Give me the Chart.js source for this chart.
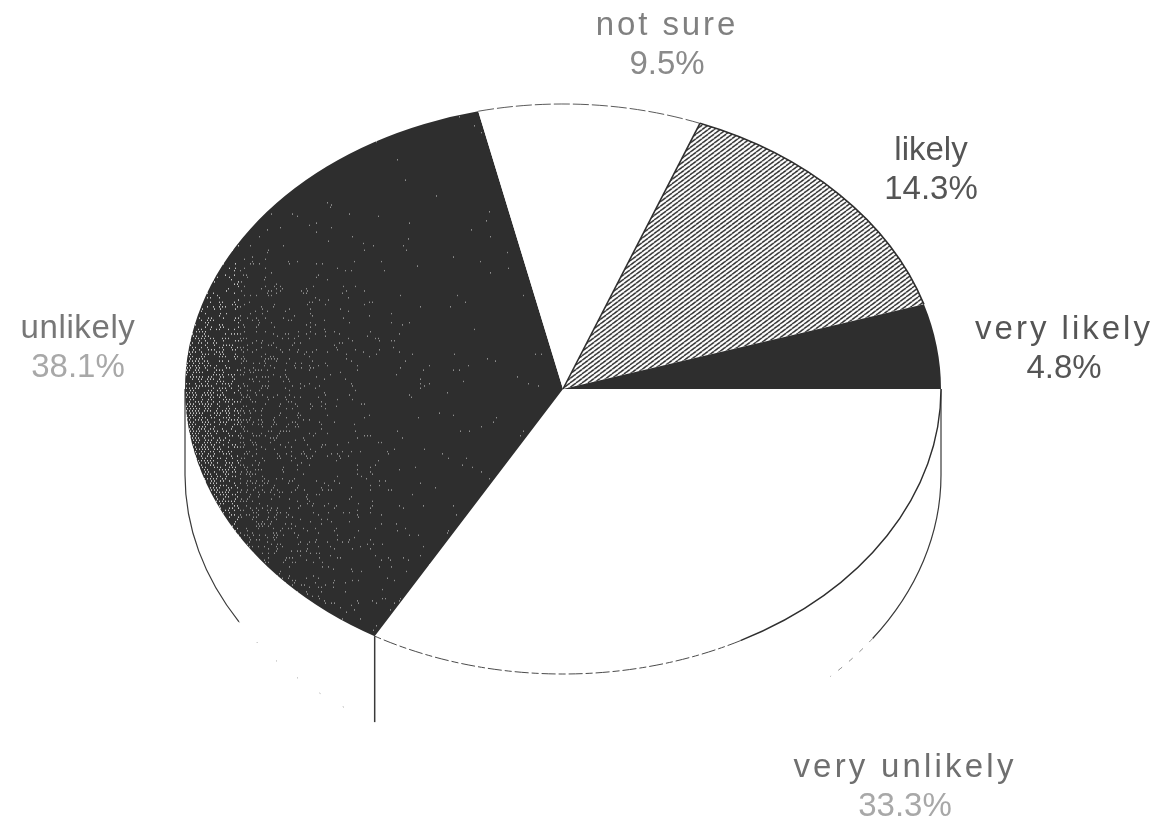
<!DOCTYPE html>
<html>
<head>
<meta charset="utf-8">
<title>Likelihood pie</title>
<style>
    html, body { margin: 0; padding: 0; background: #fff; }
    canvas { display: block; }
</style>
<script src="https://cdn.jsdelivr.net/npm/chart.js@4"></script>
</head>
<body>
<canvas id="pieChart" width="1164" height="821"></canvas>
<script>
// Chart data, going clockwise from the east edge of the pie
const categories = ['very unlikely', 'unlikely', 'not sure', 'likely', 'very likely'];
const shares = [33.3, 38.1, 9.5, 14.3, 4.8];

const INK = '#2e2e2e';
const CENTER_Y = 389;     // where the squashed pie is centred on the page
const SQUASH = 0.754;     // height/width of the top ellipse
const DEPTH = 86;         // height of the pie's side wall

// Diagonal hatch tile for "likely"
function makeHatch() {
    const tile = document.createElement('canvas');
    tile.width = 6;
    tile.height = 6;
    const c = tile.getContext('2d');
    c.fillStyle = '#fff';
    c.fillRect(0, 0, 6, 6);
    c.strokeStyle = '#2a2a2a';
    c.lineWidth = 1.6;
    for (let i = -6; i <= 12; i += 6) {
        c.beginPath();
        c.moveTo(i, 6);
        c.lineTo(i + 6, 0);
        c.stroke();
    }
    return c.createPattern(tile, 'repeat');
}

// Scanner grain for "unlikely": light flecks, thicker towards the lower left
function makeGrain() {
    const tile = document.createElement('canvas');
    tile.width = 1164;
    tile.height = 821;
    const c = tile.getContext('2d');
    c.fillStyle = INK;
    c.fillRect(0, 0, tile.width, tile.height);
    for (let y = 0; y < tile.height; y += 3) {
        for (let x = 180 + (y % 6 ? 1 : 0); x < 600; x += 3) {
            const hash = Math.abs(Math.sin(x * 12.9898 + y * 78.233) * 43758.5453) % 1;
            const lower = Math.min(1, Math.max(0, (y - 150) / 300));
            const density = 0.006 + 0.85 * lower * Math.exp(-(x - 186) / 62);
            if (hash < density) {
                c.fillStyle = x < 240 ? '#c4c4c4' : '#8f8f8f';
                c.fillRect(x, y, 1, 2);
            }
        }
    }
    return c.createPattern(tile, 'no-repeat');
}

// Label spots on the page, in the same order as categories
const labelSpots = [
    { x: 905, y: 777, gap: 3.2, color: '#6f6f6f', faint: '#a8a8a8' },
    { x: 78, y: 338, gap: 0.6, color: '#777777', faint: '#a8a8a8' },
    { x: 667, y: 35, gap: 2.9, color: '#808080', faint: '#8a8a8a' },
    { x: 931, y: 160, gap: 0, color: '#555555', faint: '#555555' },
    { x: 1064, y: 339, gap: 3, color: '#555555', faint: '#555555' }
];

// Trace part of the pie rim, squashed, so the line width stays even when stroked
function traceRim(ctx, arc, from, to) {
    ctx.save();
    ctx.translate(arc.x, CENTER_Y);
    ctx.scale(1, SQUASH);
    ctx.translate(-arc.x, -arc.y);
    ctx.beginPath();
    ctx.arc(arc.x, arc.y, arc.outerRadius, from, to);
    ctx.restore();
}

// Squash the round pie into an ellipse and draw the side wall under it
const tiltPlugin = {
    id: 'tilt',
    beforeDatasetsDraw(chart) {
        const ctx = chart.ctx;
        const arcs = chart.getDatasetMeta(0).data;
        const cx = arcs[0].x;
        const cy = arcs[0].y;
        const r = arcs[0].outerRadius;
        const ry = r * SQUASH;
        const wallY = CENTER_Y + DEPTH;

        ctx.save();
        ctx.strokeStyle = '#3a3a3a';
        ctx.lineWidth = 1.2;
        // wall, solid parts
        ctx.beginPath();
        ctx.moveTo(cx + r, CENTER_Y);
        ctx.lineTo(cx + r, wallY);
        ctx.ellipse(cx, wallY, r, ry, 0, 0, 35 * Math.PI / 180);
        ctx.stroke();
        ctx.beginPath();
        ctx.moveTo(cx - r, CENTER_Y);
        ctx.lineTo(cx - r, wallY);
        ctx.ellipse(cx, wallY, r, ry, 0, Math.PI, 149 * Math.PI / 180, true);
        ctx.stroke();
        // wall, where the scan has nearly lost the line
        ctx.strokeStyle = '#8c8c8c';
        ctx.lineWidth = 1;
        ctx.setLineDash([5, 9]);
        ctx.beginPath();
        ctx.ellipse(cx, wallY, r, ry, 0, 35 * Math.PI / 180, 45 * Math.PI / 180);
        ctx.stroke();
        ctx.setLineDash([1, 26]);
        ctx.beginPath();
        ctx.ellipse(cx, wallY, r, ry, 0, 149 * Math.PI / 180, 125 * Math.PI / 180, true);
        ctx.stroke();
        ctx.setLineDash([]);
        // wall edge under the end of the first slice
        const edge = arcs[0].endAngle;
        const edgeX = cx + r * Math.cos(edge);
        const edgeY = CENTER_Y + ry * Math.sin(edge);
        ctx.strokeStyle = '#3a3a3a';
        ctx.lineWidth = 1.5;
        ctx.beginPath();
        ctx.moveTo(edgeX, edgeY);
        ctx.lineTo(edgeX, edgeY + DEPTH);
        ctx.stroke();
        ctx.restore();

        // the slices themselves are drawn inside this transform
        ctx.save();
        ctx.translate(cx, CENTER_Y);
        ctx.scale(1, SQUASH);
        ctx.translate(-cx, -cy);
    },
    afterDatasetsDraw(chart) {
        const ctx = chart.ctx;
        const arcs = chart.getDatasetMeta(0).data;
        ctx.restore();

        // Outline of the white and hatched slices
        ctx.save();
        const mid = arcs[0].startAngle + 62 * Math.PI / 180;
        traceRim(ctx, arcs[0], arcs[0].startAngle, mid);
        ctx.strokeStyle = INK;
        ctx.lineWidth = 1.4;
        ctx.stroke();

        traceRim(ctx, arcs[0], mid, arcs[0].endAngle);
        ctx.strokeStyle = '#4a4a4a';
        ctx.lineWidth = 1;
        ctx.setLineDash([14, 3, 7, 3]);
        ctx.stroke();

        traceRim(ctx, arcs[2], arcs[2].startAngle, arcs[2].endAngle);
        ctx.strokeStyle = '#5a5a5a';
        ctx.setLineDash([16, 3]);
        ctx.stroke();
        ctx.setLineDash([]);

        traceRim(ctx, arcs[3], arcs[3].startAngle, arcs[3].endAngle);
        ctx.strokeStyle = INK;
        ctx.lineWidth = 1.6;
        ctx.stroke();

        // dark edge between "not sure" and the hatching
        const a = arcs[3].startAngle;
        ctx.beginPath();
        ctx.moveTo(arcs[3].x, CENTER_Y);
        ctx.lineTo(arcs[3].x + arcs[3].outerRadius * Math.cos(a), CENTER_Y + arcs[3].outerRadius * SQUASH * Math.sin(a));
        ctx.stroke();
        ctx.restore();
    },
    afterDraw(chart) {
        // Slice names with their shares
        const ctx = chart.ctx;
        ctx.save();
        ctx.font = '33px "Liberation Sans"';
        ctx.textAlign = 'center';
        ctx.textBaseline = 'alphabetic';
        categories.forEach((name, i) => {
            const spot = labelSpots[i];
            ctx.letterSpacing = spot.gap + 'px';
            ctx.fillStyle = spot.color;
            ctx.fillText(name, spot.x, spot.y);
            ctx.letterSpacing = '0px';
            ctx.fillStyle = spot.faint;
            ctx.fillText(shares[i] + '%', spot.x, spot.y + 39);
        });
        ctx.restore();
    }
};

// Initialize pie chart
function initializePieChart() {
    const ctx = document.getElementById('pieChart').getContext('2d');
    new Chart(ctx, {
        type: 'pie',
        data: {
            labels: categories,
            datasets: [{
                data: shares,
                backgroundColor: ['#ffffff', makeGrain(), '#ffffff', makeHatch(), INK],
                borderWidth: 0
            }]
        },
        options: {
            responsive: false,
            animation: false,
            rotation: 90,
            layout: {
                padding: { left: 185, right: 223, top: 32, bottom: 33 }
            },
            plugins: {
                legend: { display: false },
                tooltip: { enabled: false }
            }
        },
        plugins: [tiltPlugin]
    });
}

document.addEventListener('DOMContentLoaded', function() {
    initializePieChart();
});
</script>
</body>
</html>
